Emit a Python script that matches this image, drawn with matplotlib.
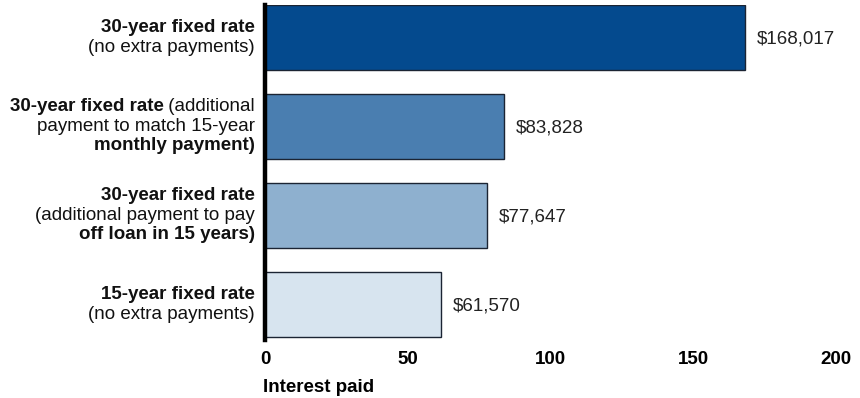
import matplotlib
matplotlib.use("Agg")
import matplotlib.pyplot as plt

plt.rcParams['font.family'] = ['Liberation Sans', 'DejaVu Sans']

# data (thousands of dollars)
values = [168.017, 83.828, 77.647, 61.570]
value_labels = ["$168,017", "$83,828", "$77,647", "$61,570"]
colors = ["#044a8e", "#4a7eb0", "#8eb0cf", "#d7e4ef"]
# category labels: list of lines, each a list of (text, bold)
category_lines = [
    [[("30-year fixed rate", True)], [("(no extra payments)", False)]],
    [[("30-year fixed rate", True), (" (additional", False)],
     [("payment to match 15-year", False)],
     [("monthly payment)", True)]],
    [[("30-year fixed rate", True)],
     [("(additional payment to pay", False)],
     [("off loan in 15 years)", True)]],
    [[("15-year fixed rate", True)], [("(no extra payments)", False)]],
]
xticks = [0, 50, 100, 150, 200]
xlabel = "Interest paid"

FS = 13.5
W, H = 860, 398
fig = plt.figure(figsize=(W / 100, H / 100), dpi=100)
ax = fig.add_axes([265 / W, 1 - 340 / H, 571 / W, 335 / H])

ypos = list(range(len(values)))
ax.barh(ypos, values, height=0.73, color=colors, edgecolor="#1b2433", linewidth=1.0)
ax.set_xlim(0, 200)
ax.set_ylim(3.4, -0.365)

for y, v, lab in zip(ypos, values, value_labels):
    ax.annotate(lab, (v, y), xytext=(8.5, -1), textcoords="offset points",
                ha="left", va="center", fontsize=FS, color="#222222")

ax.set_xticks(xticks)
ax.set_xticklabels([str(t) for t in xticks], fontweight="bold", fontsize=13.5)
ax.tick_params(axis="x", length=0, pad=8)
ax.set_yticks([])
for s in ["top", "right", "bottom"]:
    ax.spines[s].set_visible(False)
ax.spines["left"].set_linewidth(3.2)
ax.spines["left"].set_color("black")

fig.text(263 / W, 1 - 387 / H, xlabel, fontweight="bold", fontsize=FS,
         ha="left", va="center")

# category labels with mixed weights, right aligned
renderer = fig.canvas.get_renderer()
x_right = 255
line_gap = 19.5
for y, lines in zip(ypos, category_lines):
    yc_px = ax.transData.transform((0, y))[1]
    n = len(lines)
    for i, segs in enumerate(lines):
        ly = yc_px + ((n - 1) / 2 - i) * line_gap
        xr = x_right
        for text, bold in reversed(segs):
            t = fig.text(xr / W, ly / H, text, ha="right", va="center",
                         fontsize=FS, fontweight="bold" if bold else "normal",
                         color="#111111")
            bb = t.get_window_extent(renderer)
            xr -= bb.width

fig.savefig("out.png", dpi=100)
